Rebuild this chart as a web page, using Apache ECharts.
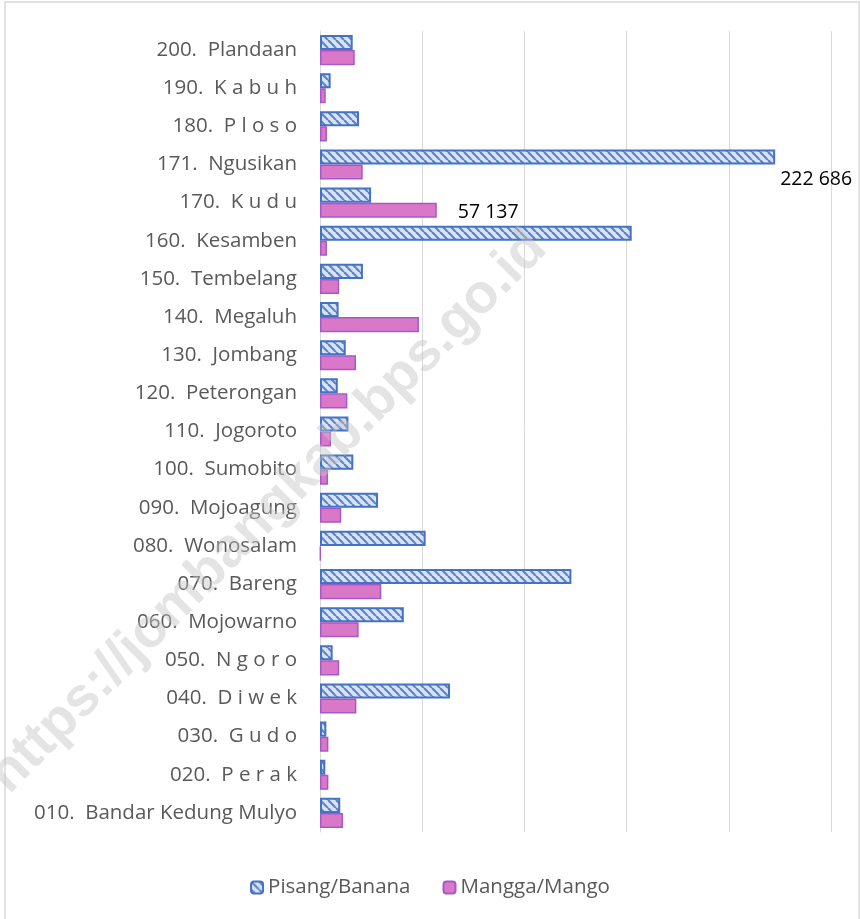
<!DOCTYPE html>
<html>
<head>
<meta charset="utf-8">
<script src="https://cdn.jsdelivr.net/npm/echarts@6/dist/echarts.min.js"></script>
<style>
  html, body { margin: 0; padding: 0; background: #fff; }
  #chart { width: 860px; height: 919px; }
</style>
</head>
<body>
<div id="chart"></div>
<script>
//kecamatan, bawah ke atas
const categories = [
  '010.  Bandar Kedung Mulyo', '020.  P e r a k', '030.  G u d o', '040.  D i w e k',
  '050.  N g o r o', '060.  Mojowarno', '070.  Bareng', '080.  Wonosalam',
  '090.  Mojoagung', '100.  Sumobito', '110.  Jogoroto', '120.  Peterongan',
  '130.  Jombang', '140.  Megaluh', '150.  Tembelang', '160.  Kesamben',
  '170.  K u d u', '171.  Ngusikan', '180.  P l o s o', '190.  K a b u h', '200.  Plandaan'
];
//pisang
const banana = [
  9900, 2600, 3100, 63600, 6200, 41000, 123000, 51700, 28400, 16300, 13900,
  8700, 12600, 9100, 21000, 152500, 25000, 222686, 19100, 5200, 16000
];
//mangga
const mango = [
  11300, 4100, 4100, 17800, 9400, 18900, 30000, 300, 10400, 3900, 5400,
  13400, 17600, 48400, 9400, 3400, 57137, 20900, 3400, 2800, 17000
];
const seriesNames = ['Pisang/Banana', 'Mangga/Mango'];
const watermark = 'https://jombangkab.bps.go.id';

//pola arsir pisang
function hatch() {
  const c = document.createElement('canvas');
  c.width = 8; c.height = 8;
  const ctx = c.getContext('2d');
  ctx.fillStyle = '#dbe4f6';
  ctx.fillRect(0, 0, 8, 8);
  ctx.strokeStyle = '#5b84cf';
  ctx.lineWidth = 2.2;
  for (const o of [-8, 0, 8]) {
    ctx.beginPath();
    ctx.moveTo(o, 0);
    ctx.lineTo(o + 8, 8);
    ctx.stroke();
  }
  return c;
}
const hatchFill = { image: hatch(), repeat: 'repeat' };

const labelFont = { fontFamily: 'Open Sans', fontSize: 20.5, color: '#595959' };

//label hanya untuk nilai tertinggi
function withMaxLabel(arr, text, offset) {
  const max = Math.max(...arr);
  return arr.map(v => v !== max ? v : {
    value: v,
    label: {
      show: true, position: 'right', distance: 0, offset: offset,
      formatter: text, fontFamily: 'Open Sans', fontSize: 19.5, color: '#000'
    }
  });
}

const chart = echarts.init(document.getElementById('chart'));
chart.setOption({
  animation: false,
  grid: { left: 320, right: 29, top: 31, bottom: 87 },
  xAxis: {
    type: 'value', min: 0, max: 250000, interval: 50000,
    axisLabel: { show: false },
    axisLine: { show: false },
    axisTick: { show: false },
    splitLine: { lineStyle: { color: '#d9d9d9', width: 1 } }
  },
  yAxis: {
    type: 'category', data: categories,
    axisLine: { show: true, lineStyle: { color: '#d9d9d9' } },
    axisTick: { show: false },
    axisLabel: Object.assign({ margin: 23 }, labelFont)
  },
  legend: {
    data: seriesNames, left: 'center', top: 872,
    itemWidth: 12, itemHeight: 12, itemGap: 32,
    textStyle: labelFont
  },
  series: [
    {
      name: seriesNames[0], type: 'bar', data: withMaxLabel(banana, '222 686', [5, 22]),
      barGap: '0%', barCategoryGap: '21%',
      itemStyle: { color: hatchFill, borderColor: '#4472c4', borderWidth: 2 }
    },
    {
      name: seriesNames[1], type: 'bar', data: withMaxLabel(mango, '57 137', [21, 2]),
      itemStyle: { color: '#da78c8', borderColor: '#a35ac9', borderWidth: 1.5 }
    }
  ],
  graphic: [
    {
      type: 'rect', silent: true, z: -1,
      shape: { x: 5, y: 2, width: 854, height: 940 },
      style: { fill: 'none', stroke: '#d9d9d9', lineWidth: 1.5 }
    },
    {
      type: 'text', silent: true, z: 100,
      x: 268, y: 512, rotation: 0.79,
      style: {
        text: watermark, fontFamily: 'Liberation Sans', fontWeight: 'bold',
        fontSize: 55, fill: 'rgba(195,195,195,0.45)',
        align: 'center', verticalAlign: 'middle'
      }
    }
  ]
});
</script>
</body>
</html>
